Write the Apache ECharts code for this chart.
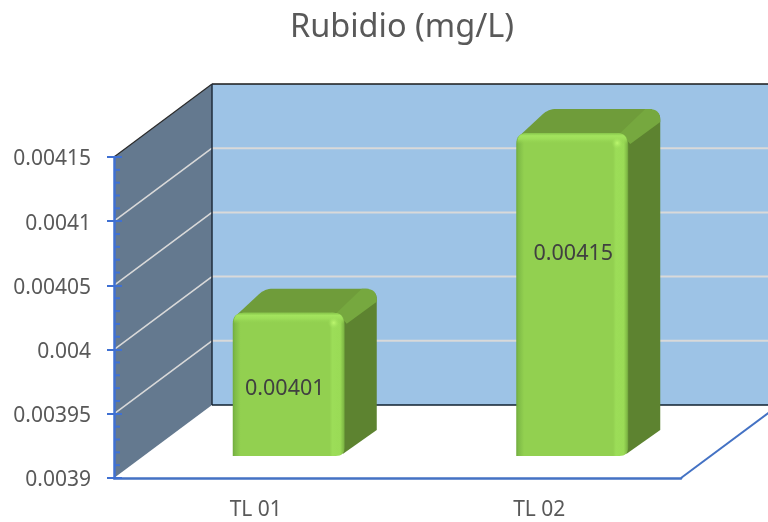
<!DOCTYPE html>
<html>
<head>
<meta charset="utf-8">
<style>
  html, body { margin: 0; padding: 0; background: #fff; }
  #chart { width: 768px; height: 522px; }
</style>
<script src="https://cdn.jsdelivr.net/npm/echarts@6/dist/echarts.min.js"></script>
</head>
<body>
<div id="chart"></div>
<script>
const categories = ['TL 01', 'TL 02']
const values = [0.00401, 0.00415]
const yTicks = [0.0039, 0.00395, 0.004, 0.00405, 0.0041, 0.00415]

// fake 3d: how far the back wall and the bars sit behind the front plane
const wallDepth = [98, -73]
const barShift = [33, -22]
const barDepth = [32, -24]
const barHalf = 56
const minorSplit = 5
// excel puts the labels where it wants, so nudged by hand
const labelNudge = [[-4, 3], [1, -42]]

const fontName = '"Noto Sans", sans-serif'
const axisBlue = '#3F70D2'
const LG = echarts.graphic.LinearGradient
const RG = echarts.graphic.RadialGradient

// polygon with rounded corners, radius per corner
function rounded(pts, radii) {
    const out = []
    pts.forEach((p, i) => {
        const r = radii[i]
        if (!r) { out.push(p); return }
        const a = pts[(i + pts.length - 1) % pts.length]
        const b = pts[(i + 1) % pts.length]
        const la = Math.hypot(a[0] - p[0], a[1] - p[1])
        const lb = Math.hypot(b[0] - p[0], b[1] - p[1])
        const s = [p[0] + (a[0] - p[0]) * r / la, p[1] + (a[1] - p[1]) * r / la]
        const e = [p[0] + (b[0] - p[0]) * r / lb, p[1] + (b[1] - p[1]) * r / lb]
        for (let t = 0; t <= 8; t++) {
            const u = t / 8
            out.push([
                (1 - u) * (1 - u) * s[0] + 2 * u * (1 - u) * p[0] + u * u * e[0],
                (1 - u) * (1 - u) * s[1] + 2 * u * (1 - u) * p[1] + u * u * e[1]
            ])
        }
    })
    return out
}

function poly(points, fill, z2) {
    return { type: 'polygon', z2: z2 || 0, shape: { points }, style: { fill } }
}
function line(x1, y1, x2, y2, stroke, lineWidth, z2) {
    return { type: 'line', z2: z2 || 1, shape: { x1, y1, x2, y2 }, style: { stroke, lineWidth } }
}

function renderWalls(params, api) {
    const grid = params.coordSys
    const x0 = grid.x
    const x1 = grid.x + grid.width
    const yTop = grid.y
    const yBot = grid.y + grid.height
    const dx = wallDepth[0]
    const dy = wallDepth[1]
    const kids = [
        poly([[x0 + dx, yTop + dy], [x1 + dx, yTop + dy], [x1 + dx, yBot + dy], [x0 + dx, yBot + dy]], '#9DC3E6'),
        poly([[x0, yBot], [x0, yTop], [x0 + dx, yTop + dy], [x0 + dx, yBot + dy]], '#64798F'),
        line(x0, yTop, x0 + dx, yTop + dy, '#2b2b2b', 1.2, 3),
        line(x0 + dx, yTop + dy, x1 + dx, yTop + dy, '#1a1a1a', 1.5, 3),
        line(x0 + dx, yTop + dy, x0 + dx, yBot + dy, '#1f2d3d', 1.5, 3),
        line(x0 + dx, yBot + dy, x1 + dx, yBot + dy, '#10202f', 1.5, 3),
        line(x1, yBot, x1 + dx, yBot + dy, '#4472C4', 2, 3)
    ]
    yTicks.forEach((t, k) => {
        const y = api.coord([0, t])[1]
        if (k > 0 && k < yTicks.length - 1) {
            kids.push(line(x0, y, x0 + dx, y + dy, '#D9D9D9', 1.6, 2))
            kids.push(line(x0 + dx, y + dy, x1 + dx, y + dy, '#D9D9D9', 2, 2))
        }
        // short inward ticks between the labelled ones
        if (k < yTicks.length - 1) {
            const step = (yTicks[k + 1] - t) / minorSplit
            for (let m = 1; m < minorSplit; m++) {
                const my = api.coord([0, t + step * m])[1]
                kids.push(line(x0, my, x0 + 6, my, axisBlue, 2, 4))
            }
        }
    })
    return { type: 'group', children: kids }
}

function renderBar(params, api) {
    const i = api.value(0)
    const val = api.value(1)
    const top = api.coord([i, val])
    const bottom = api.coord([i, yTicks[0]])
    const cx = top[0] + barShift[0]
    const x1 = cx - barHalf
    const x2 = cx + barHalf
    const y1 = top[1] + barShift[1] - 2
    const y2 = bottom[1] + barShift[1]
    const dx = barDepth[0]
    const dy = barDepth[1]

    const side = rounded(
        [[x2 - 10, y1], [x2 + dx, y1 + dy], [x2 + dx, y2 + dy - 2], [x2 - 2, y2 - 2]],
        [0, 11, 0, 0]
    )
    const topFace = rounded(
        [[x1 + 2, y1 + 4], [x1 + dx, y1 + dy], [x2 + dx - 8, y1 + dy], [x2, y1 + 8]],
        [4, 8, 0, 0]
    )
    // lighter ridge where the top bends down to the side
    const ridge = rounded(
        [[x2 - 8, y1], [x2 + dx - 15, y1 + dy], [x2 + dx, y1 + dy], [x2 + dx, y1 + dy + 13], [x2 + 2, y1 + 11]],
        [0, 0, 11, 0, 0]
    )
    const front = rounded(
        [[x1, y1], [x2, y1], [x2, y2], [x1, y2]],
        [11, 12, 9, 0]
    )
    const frontFill = new LG(0, 0, 1, 0, [
        { offset: 0, color: '#70AB3D' },
        { offset: 0.02, color: '#7FBB47' },
        { offset: 0.07, color: '#92D050' },
        { offset: 0.865, color: '#92D050' },
        { offset: 0.89, color: '#9CDD58' },
        { offset: 0.96, color: '#9ADB56' },
        { offset: 0.99, color: '#7FB845' },
        { offset: 1, color: '#6A9E38' }
    ])
    const topBevel = poly(
        rounded([[x1 + 1, y1 + 11], [x1 + 1, y1], [x2 - 1, y1], [x2 - 1, y1 + 11]], [0, 10, 11, 0]),
        new LG(0, 0, 0, 1, [
            { offset: 0, color: '#86C44A' },
            { offset: 0.25, color: '#A3E45E' },
            { offset: 0.55, color: '#9DDD59' },
            { offset: 1, color: 'rgba(146,208,80,0)' }
        ]),
        5
    )
    const shine = {
        type: 'circle',
        z2: 6,
        shape: { cx: x2 - 11, cy: y1 + 10, r: 6 },
        style: {
            fill: new RG(0.5, 0.5, 0.5, [
                { offset: 0, color: '#BDF76F' },
                { offset: 1, color: 'rgba(160,226,92,0)' }
            ])
        }
    }
    const txt = {
        type: 'text',
        z2: 8,
        style: {
            text: String(val),
            x: cx + labelNudge[i][0],
            y: (y1 + y2) / 2 + labelNudge[i][1] + 1,
            fill: '#404040',
            font: '21.5px ' + fontName,
            align: 'center',
            verticalAlign: 'middle'
        }
    }
    return {
        type: 'group',
        children: [
            poly(side, '#5D8330', 1),
            poly(topFace, '#6F9C3A', 2),
            poly(ridge, '#76A83F', 3),
            poly(front, frontFill, 4),
            topBevel,
            shine,
            txt
        ]
    }
}

const myChart = echarts.init(document.getElementById('chart'))
myChart.setOption({
    animation: false,
    backgroundColor: '#fff',
    title: {
        text: 'Rubidio (mg/L)',
        left: 397,
        top: 6,
        textAlign: 'center',
        textStyle: { color: '#595959', fontSize: 32.5, fontWeight: 'normal', fontFamily: fontName }
    },
    grid: { left: 114, right: 87, top: 157, bottom: 44 },
    xAxis: {
        type: 'category',
        data: categories,
        z: 10,
        axisLine: { lineStyle: { color: '#4472C4', width: 2.5 } },
        axisTick: { show: false },
        axisLabel: { color: '#595959', fontSize: 21, fontFamily: fontName, margin: 22 }
    },
    yAxis: [
        {
            type: 'value',
            min: 0.0039,
            max: 0.00415,
            interval: 0.00005,
            z: 10,
            splitLine: { show: false },
            axisLine: { show: true, lineStyle: { color: axisBlue, width: 2.5 } },
            axisTick: { show: true, length: 7, lineStyle: { color: axisBlue, width: 2 } },
            axisLabel: { color: '#595959', fontSize: 21, fontFamily: fontName, margin: 23, verticalAlign: 'top', lineHeight: 5 }
        },
        {
            // same scale again, only for the ticks that point inward
            type: 'value',
            position: 'left',
            min: 0.0039,
            max: 0.00415,
            interval: 0.00005,
            z: 10,
            splitLine: { show: false },
            axisLine: { show: false },
            axisLabel: { show: false },
            axisTick: { show: true, inside: true, length: 8, lineStyle: { color: axisBlue, width: 2 } }
        }
    ],
    series: [
        {
            type: 'custom',
            z: 1,
            silent: true,
            clip: false,
            renderItem: renderWalls,
            encode: { x: 0, y: 1 },
            data: [[0, yTicks[0]]]
        },
        {
            type: 'custom',
            z: 2,
            clip: false,
            renderItem: renderBar,
            encode: { x: 0, y: 1 },
            data: categories.map((c, i) => [i, values[i]])
        }
    ]
})
</script>
</body>
</html>
